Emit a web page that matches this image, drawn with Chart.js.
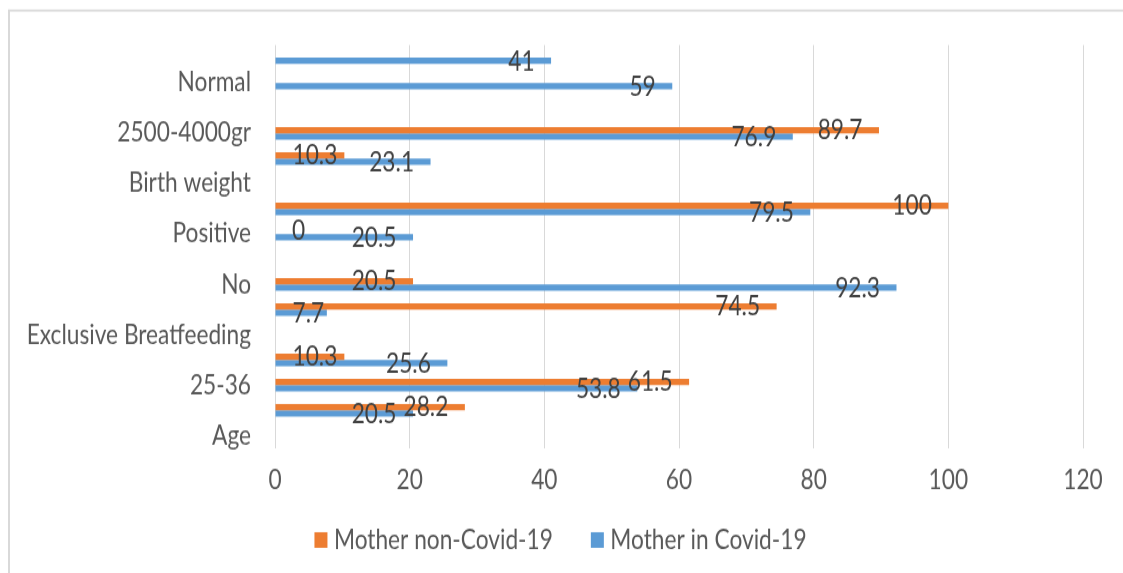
<!DOCTYPE html>
<html>
<head>
<meta charset="utf-8">
<script src="https://cdn.jsdelivr.net/npm/chart.js@4.4.0/dist/chart.umd.min.js"></script>
<style>
html,body{margin:0;padding:0;background:#ffffff;overflow:hidden;}
canvas{display:block;}
</style>
</head>
<body>
<!-- drawn at 1123x478 and shown at 1123x573: the reference picture is stretched vertically -->
<canvas id="chart" width="1123" height="478" style="width:1123px;height:573px;"></canvas>
<script>
// ---- data (top to bottom as shown) ----
const categories = ['', 'Normal', '', '2500-4000gr', '', 'Birth weight', '', 'Positive', '', 'No', '', 'Exclusive Breatfeeding', '', '25-36', '', 'Age'];
const motherNonCovid = [null, null, null, 89.7, 10.3, null, 100, 0, null, 20.5, 74.5, null, 10.3, 61.5, 28.2, null];
const motherInCovid = [41, 59, null, 76.9, 23.1, null, 79.5, 20.5, null, 92.3, 7.7, null, 25.6, 53.8, 20.5, null];
const seriesNames = ['Mother non-Covid-19', 'Mother in Covid-19'];
const xTicks = [0, 20, 40, 60, 80, 100, 120];

// vertical stretch between drawing and display
const SY = 573 / 478;

// ---- font choice ----
function pickFont() {
  const ctx = document.createElement('canvas').getContext('2d');
  const probe = 'Exclusive Breatfeeding';
  const cands = ['Lato', 'Liberation Sans'];
  for (const f of cands) {
    ctx.font = '100px monospace';
    const a = ctx.measureText(probe).width;
    ctx.font = '100px "' + f + '", monospace';
    const b = ctx.measureText(probe).width;
    if (Math.abs(a - b) > 0.5) return { family: f, w: b };
  }
  ctx.font = '100px sans-serif';
  return { family: 'sans-serif', w: ctx.measureText(probe).width };
}
const picked = pickFont();
const FONT = picked.family;
const FS = Math.round(224 / picked.w * 100 * 10) / 10;

const ORANGE = '#ED7D31';
const BLUE = '#5B9BD5';
const TEXT = '#595959';
const GRID = '#D9D9D9';

const frame = {
  id: 'frame',
  beforeDraw(chart) {
    const ctx = chart.ctx;
    ctx.save();
    ctx.fillStyle = '#ffffff';
    ctx.fillRect(0, 0, chart.width, chart.height);
    ctx.fillStyle = GRID;
    ctx.fillRect(8, 9.5 / SY, chart.width, 2 / SY);
    ctx.fillRect(8, 9.5 / SY, 2, chart.height);
    ctx.restore();
  }
};

const valueLabels = {
  id: 'valueLabels',
  afterDatasetsDraw(chart) {
    const ctx = chart.ctx;
    ctx.save();
    ctx.font = FS + 'px "' + FONT + '"';
    ctx.fillStyle = '#404040';
    ctx.textAlign = 'left';
    ctx.textBaseline = 'middle';
    chart.data.datasets.forEach((ds, i) => {
      const meta = chart.getDatasetMeta(i);
      meta.data.forEach((el, j) => {
        const v = ds.data[j];
        if (v === null || v === undefined) return;
        const txt = String(v);
        const w = ctx.measureText(txt).width;
        const left = Math.max(el.x - 16.5 - w, el.base + 17);
        ctx.fillText(txt, left, el.y + 0.5);
      });
    });
    ctx.restore();
  }
};

const bottomLegend = {
  id: 'bottomLegend',
  afterDraw(chart) {
    const ctx = chart.ctx;
    ctx.save();
    ctx.font = FS + 'px "' + FONT + '"';
    ctx.textAlign = 'left';
    ctx.textBaseline = 'middle';
    const box = 13, gap = 6.5, sep = 38;
    const items = chart.data.datasets.map(ds => ({ text: ds.label, color: ds.backgroundColor, w: ctx.measureText(ds.label).width }));
    let total = 0;
    items.forEach((it, k) => { total += box + gap + it.w + (k ? sep : 0); });
    let x = 560.5 - total / 2;
    const cy = 540 / SY;
    items.forEach(it => {
      ctx.fillStyle = it.color;
      ctx.fillRect(x, cy - box / 2, box, box);
      ctx.fillStyle = TEXT;
      ctx.fillText(it.text, x + box + gap, cy + 0.5);
      x += box + gap + it.w + sep;
    });
    ctx.restore();
  }
};

new Chart(document.getElementById('chart'), {
  type: 'bar',
  data: {
    labels: categories,
    datasets: [
      { label: seriesNames[0], data: motherNonCovid, backgroundColor: ORANGE, borderWidth: 0 },
      { label: seriesNames[1], data: motherInCovid, backgroundColor: BLUE, borderWidth: 0 }
    ]
  },
  options: {
    indexAxis: 'y',
    responsive: false,
    animation: false,
    devicePixelRatio: 1,
    categoryPercentage: 0.5,
    barPercentage: 1.0,
    layout: { padding: { top: 43 / SY, left: 19, right: 21, bottom: 0 } },
    scales: {
      x: {
        type: 'linear',
        min: 0,
        max: 120,
        afterBuildTicks(scale) { scale.ticks = xTicks.map(v => ({ value: v })); },
        ticks: { color: TEXT, font: { family: FONT, size: FS }, padding: 481 / SY - 448 / SY - 0.6 * FS - 0.5 },
        grid: { color: GRID, lineWidth: 1, drawTicks: false },
        border: { display: false },
        afterFit(scale) {
          scale.height = 478 - 448 / SY;
          scale.paddingRight = 40;
          scale.paddingLeft = 0;
        }
      },
      y: {
        type: 'category',
        ticks: { color: TEXT, font: { family: FONT, size: FS }, padding: 24, autoSkip: false },
        grid: { display: false, drawTicks: false },
        border: { display: false },
        afterFit(scale) { scale.width = 256; }
      }
    },
    plugins: {
      tooltip: { enabled: false },
      legend: { display: false }
    }
  },
  plugins: [frame, valueLabels, bottomLegend]
});
</script>
</body>
</html>
